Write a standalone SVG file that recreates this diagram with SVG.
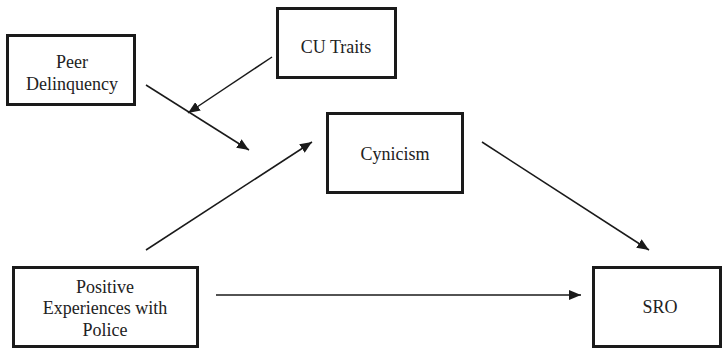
<svg xmlns="http://www.w3.org/2000/svg" width="722" height="349" viewBox="0 0 722 349">
<style>
.box{fill:#fff;stroke:#1a1a1a;stroke-width:3}
.lbl{font-family:"Liberation Serif","DejaVu Serif",serif;font-size:18px;fill:#222;text-anchor:middle}
.edge{stroke:#1a1a1a;stroke-width:1.5;fill:none;marker-end:url(#ah)}
</style>
<defs>
<marker id="ah" viewBox="0 0 12 10" refX="12" refY="5" markerWidth="12" markerHeight="10" markerUnits="userSpaceOnUse" orient="auto">
<path d="M0,0 L12,5 L0,10 z" fill="#1a1a1a"/>
</marker>
</defs>
<rect width="722" height="349" fill="#fff"/>
<g id="peer">
<rect class="box" x="7.5" y="35.5" width="127" height="69"/>
<text class="lbl" x="72" y="68">Peer</text>
<text class="lbl" x="72" y="90">Delinquency</text>
</g>
<g id="cu">
<rect class="box" x="277.5" y="8.5" width="118" height="69"/>
<text class="lbl" x="336" y="53">CU Traits</text>
</g>
<g id="cynicism">
<rect class="box" x="327.5" y="113.5" width="135" height="79"/>
<text class="lbl" x="395" y="160">Cynicism</text>
</g>
<g id="positive">
<rect class="box" x="13.5" y="267.5" width="184" height="79"/>
<text class="lbl" x="105" y="293">Positive</text>
<text class="lbl" x="105" y="314">Experiences with</text>
<text class="lbl" x="105" y="336">Police</text>
</g>
<g id="sro">
<rect class="box" x="593.5" y="267.5" width="127" height="79"/>
<text class="lbl" x="660" y="313">SRO</text>
</g>
<g id="connectors">
<line class="edge" x1="146" y1="85" x2="249" y2="150"/>
<line class="edge" x1="272" y1="57" x2="188" y2="113"/>
<line class="edge" x1="146" y1="250" x2="312" y2="142"/>
<line class="edge" x1="482" y1="142" x2="649" y2="250"/>
<line class="edge" x1="216" y1="295" x2="581" y2="295"/>
</g>
</svg>
